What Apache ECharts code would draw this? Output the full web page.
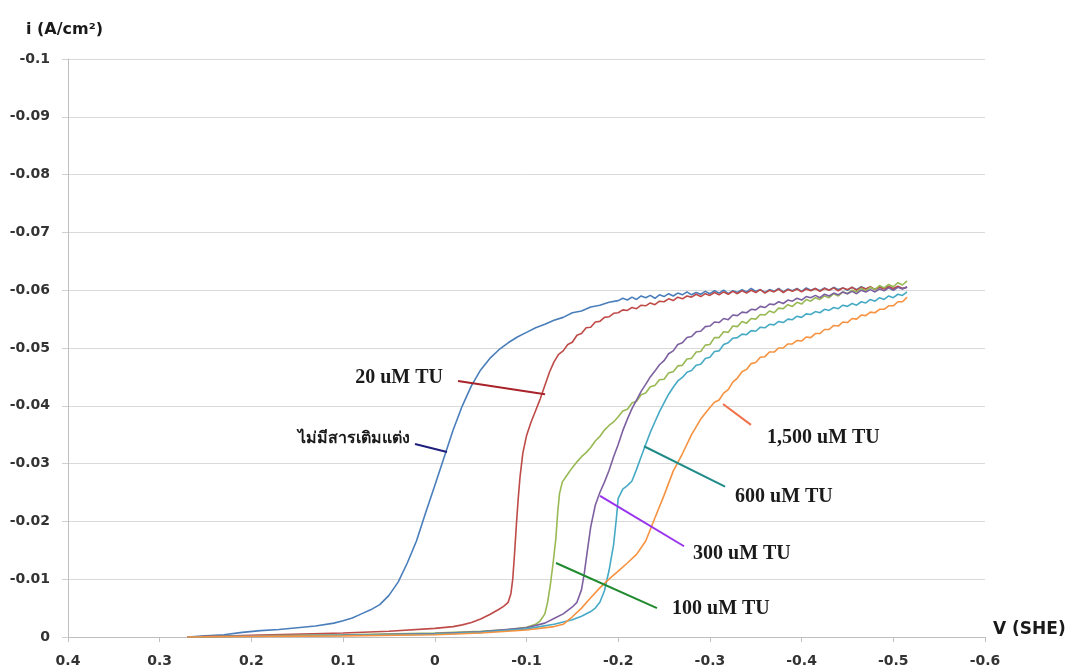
<!DOCTYPE html>
<html>
<head>
<meta charset="utf-8">
<title>Polarization curves with thiourea</title>
<script src="https://cdn.jsdelivr.net/npm/echarts@6/dist/echarts.min.js"></script>
<style>
  html, body { margin: 0; padding: 0; background: #ffffff; }
  #chart { width: 1073px; height: 671px; }
</style>
</head>
<body>
<div id="chart"></div>
<script>
// Tick labels for the potential (V vs SHE) and current density axes
const xTickLabels = ['-0.6', '-0.5', '-0.4', '-0.3', '-0.2', '-0.1', '0', '0.1', '0.2', '0.3', '0.4'];
const yTickLabels = ['-0.1', '-0.09', '-0.08', '-0.07', '-0.06', '-0.05', '-0.04', '-0.03', '-0.02', '-0.01', '0'];

// Curve names (annotation text)
const seriesNames = ['ไม่มีสารเติมแต่ง', '20 uM TU', '100 uM TU', '300 uM TU', '600 uM TU', '1,500 uM TU'];

// [potential V, current density A/cm2]
const noAdditive = [
  [0.27, 0], [0.25, -0.0002], [0.23, -0.0004], [0.21, -0.0008], [0.19, -0.0011], [0.17, -0.0013],
  [0.15, -0.0016], [0.13, -0.0019], [0.11, -0.0024], [0.10, -0.0028], [0.09, -0.0033], [0.08, -0.0040],
  [0.07, -0.0047], [0.06, -0.0056], [0.05, -0.0072], [0.04, -0.0095], [0.03, -0.0128], [0.02, -0.0166],
  [0.01, -0.0215], [0.00, -0.0262], [-0.01, -0.0310], [-0.02, -0.0358], [-0.03, -0.0400], [-0.04, -0.0435],
  [-0.05, -0.0462], [-0.06, -0.0482], [-0.07, -0.0497], [-0.08, -0.0509], [-0.09, -0.0519], [-0.10, -0.0527],
  [-0.11, -0.0535], [-0.12, -0.0541], [-0.13, -0.0548], [-0.14, -0.0553], [-0.15, -0.0561], [-0.16, -0.0564],
  [-0.17, -0.0571], [-0.18, -0.0574], [-0.19, -0.0579], [-0.20, -0.0582], [-0.205, -0.0586], [-0.21, -0.0583],
  [-0.215, -0.0588], [-0.22, -0.0584], [-0.225, -0.0590], [-0.23, -0.0587], [-0.235, -0.0591], [-0.24, -0.0586],
  [-0.245, -0.0592], [-0.25, -0.0589], [-0.255, -0.0594], [-0.26, -0.0590], [-0.265, -0.0595], [-0.27, -0.0592],
  [-0.275, -0.0597], [-0.28, -0.0592], [-0.285, -0.0596], [-0.29, -0.0593], [-0.295, -0.0598], [-0.30, -0.0594],
  [-0.305, -0.0599], [-0.31, -0.0595], [-0.315, -0.0600], [-0.32, -0.0594], [-0.325, -0.0599], [-0.33, -0.0596],
  [-0.335, -0.0601], [-0.34, -0.0597], [-0.345, -0.0603], [-0.35, -0.0598], [-0.355, -0.0601], [-0.36, -0.0596],
  [-0.365, -0.0601], [-0.37, -0.0598], [-0.375, -0.0603], [-0.38, -0.0597], [-0.385, -0.0602], [-0.39, -0.0599],
  [-0.395, -0.0603], [-0.40, -0.0598], [-0.405, -0.0604], [-0.41, -0.0600], [-0.415, -0.0603], [-0.42, -0.0599],
  [-0.425, -0.0604], [-0.43, -0.0600], [-0.435, -0.0605], [-0.44, -0.0601], [-0.445, -0.0604], [-0.45, -0.0600],
  [-0.455, -0.0605], [-0.46, -0.0601], [-0.465, -0.0606], [-0.47, -0.0602], [-0.475, -0.0605], [-0.48, -0.0601],
  [-0.485, -0.0606], [-0.49, -0.0603], [-0.495, -0.0607], [-0.50, -0.0602], [-0.505, -0.0606], [-0.51, -0.0603],
  [-0.515, -0.0605]
];

const tu20 = [
  [0.27, 0], [0.20, -0.0003], [0.10, -0.0007], [0.05, -0.0010], [0.00, -0.0015], [-0.02, -0.0018],
  [-0.03, -0.0021], [-0.04, -0.0025], [-0.05, -0.0031], [-0.06, -0.0039], [-0.07, -0.0048], [-0.075, -0.0053],
  [-0.08, -0.0060], [-0.083, -0.0075], [-0.085, -0.0100], [-0.087, -0.0145], [-0.089, -0.0195], [-0.091, -0.0240],
  [-0.093, -0.0278], [-0.096, -0.0318], [-0.10, -0.0348], [-0.105, -0.0372], [-0.11, -0.0392], [-0.115, -0.0412],
  [-0.12, -0.0435], [-0.125, -0.0458], [-0.13, -0.0476], [-0.135, -0.0489], [-0.14, -0.0495], [-0.145, -0.0506],
  [-0.15, -0.0510], [-0.155, -0.0522], [-0.16, -0.0525], [-0.165, -0.0535], [-0.17, -0.0536], [-0.175, -0.0545],
  [-0.18, -0.0546], [-0.185, -0.0553], [-0.19, -0.0554], [-0.195, -0.0560], [-0.20, -0.0561], [-0.205, -0.0566],
  [-0.21, -0.0565], [-0.215, -0.0570], [-0.22, -0.0568], [-0.225, -0.0574], [-0.23, -0.0573], [-0.235, -0.0578],
  [-0.24, -0.0575], [-0.245, -0.0581], [-0.25, -0.0580], [-0.255, -0.0585], [-0.26, -0.0582], [-0.265, -0.0588],
  [-0.27, -0.0585], [-0.275, -0.0590], [-0.28, -0.0588], [-0.285, -0.0593], [-0.29, -0.0589], [-0.295, -0.0594],
  [-0.30, -0.0591], [-0.305, -0.0596], [-0.31, -0.0592], [-0.315, -0.0597], [-0.32, -0.0593], [-0.325, -0.0598],
  [-0.33, -0.0594], [-0.335, -0.0599], [-0.34, -0.0595], [-0.345, -0.0600], [-0.35, -0.0596], [-0.355, -0.0601],
  [-0.36, -0.0595], [-0.365, -0.0600], [-0.37, -0.0597], [-0.375, -0.0602], [-0.38, -0.0596], [-0.385, -0.0601],
  [-0.39, -0.0598], [-0.395, -0.0602], [-0.40, -0.0597], [-0.405, -0.0602], [-0.41, -0.0599], [-0.415, -0.0603],
  [-0.42, -0.0598], [-0.425, -0.0603], [-0.43, -0.0600], [-0.435, -0.0604], [-0.44, -0.0599], [-0.445, -0.0604],
  [-0.45, -0.0601], [-0.455, -0.0605], [-0.46, -0.0600], [-0.465, -0.0605], [-0.47, -0.0602], [-0.475, -0.0606],
  [-0.48, -0.0601], [-0.485, -0.0605], [-0.49, -0.0602], [-0.495, -0.0606], [-0.50, -0.0603], [-0.505, -0.0607],
  [-0.51, -0.0603], [-0.515, -0.0605]
];

const tu100 = [
  [0.27, 0], [0.20, -0.0002], [0.10, -0.0004], [0.00, -0.0007], [-0.05, -0.0010], [-0.08, -0.0013],
  [-0.10, -0.0017], [-0.11, -0.0022], [-0.115, -0.0028], [-0.12, -0.0040], [-0.123, -0.0060], [-0.126, -0.0090],
  [-0.129, -0.0128], [-0.132, -0.0170], [-0.134, -0.0215], [-0.136, -0.0248], [-0.139, -0.0268], [-0.145, -0.0282],
  [-0.15, -0.0293], [-0.155, -0.0303], [-0.16, -0.0312], [-0.165, -0.0319], [-0.17, -0.0328], [-0.175, -0.0339],
  [-0.18, -0.0347], [-0.185, -0.0358], [-0.19, -0.0366], [-0.195, -0.0372], [-0.20, -0.0381], [-0.205, -0.0391],
  [-0.21, -0.0394], [-0.215, -0.0405], [-0.22, -0.0408], [-0.225, -0.0419], [-0.23, -0.0422], [-0.235, -0.0433],
  [-0.24, -0.0435], [-0.245, -0.0445], [-0.25, -0.0446], [-0.255, -0.0457], [-0.26, -0.0459], [-0.265, -0.0469],
  [-0.27, -0.0470], [-0.275, -0.0481], [-0.28, -0.0482], [-0.285, -0.0493], [-0.29, -0.0494], [-0.295, -0.0505],
  [-0.30, -0.0506], [-0.305, -0.0518], [-0.31, -0.0518], [-0.315, -0.0528], [-0.32, -0.0527], [-0.325, -0.0538],
  [-0.33, -0.0537], [-0.335, -0.0546], [-0.34, -0.0543], [-0.345, -0.0551], [-0.35, -0.0550], [-0.355, -0.0558],
  [-0.36, -0.0557], [-0.365, -0.0564], [-0.37, -0.0561], [-0.375, -0.0569], [-0.38, -0.0568], [-0.385, -0.0575],
  [-0.39, -0.0572], [-0.395, -0.0579], [-0.40, -0.0576], [-0.405, -0.0584], [-0.41, -0.0581], [-0.415, -0.0587],
  [-0.42, -0.0584], [-0.425, -0.0590], [-0.43, -0.0587], [-0.435, -0.0594], [-0.44, -0.0590], [-0.445, -0.0597],
  [-0.45, -0.0594], [-0.455, -0.0600], [-0.46, -0.0597], [-0.465, -0.0603], [-0.47, -0.0599], [-0.475, -0.0605],
  [-0.48, -0.0601], [-0.485, -0.0608], [-0.49, -0.0604], [-0.495, -0.0610], [-0.50, -0.0606], [-0.505, -0.0613],
  [-0.51, -0.0609], [-0.515, -0.0616]
];

const tu300 = [
  [0.27, 0], [0.20, -0.0002], [0.10, -0.0003], [0.00, -0.0006], [-0.05, -0.0009], [-0.10, -0.0016],
  [-0.12, -0.0024], [-0.13, -0.0032], [-0.14, -0.0040], [-0.15, -0.0052], [-0.155, -0.0060], [-0.16, -0.0082],
  [-0.163, -0.0110], [-0.166, -0.0145], [-0.17, -0.0190], [-0.175, -0.0228], [-0.18, -0.0250], [-0.185, -0.0268],
  [-0.19, -0.0288], [-0.195, -0.0312], [-0.20, -0.0333], [-0.205, -0.0357], [-0.21, -0.0377], [-0.215, -0.0395],
  [-0.22, -0.0410], [-0.225, -0.0425], [-0.23, -0.0437], [-0.235, -0.0450], [-0.24, -0.0460], [-0.245, -0.0471],
  [-0.25, -0.0478], [-0.255, -0.0490], [-0.26, -0.0495], [-0.265, -0.0506], [-0.27, -0.0509], [-0.275, -0.0518],
  [-0.28, -0.0520], [-0.285, -0.0528], [-0.29, -0.0529], [-0.295, -0.0537], [-0.30, -0.0538], [-0.305, -0.0545],
  [-0.31, -0.0544], [-0.315, -0.0551], [-0.32, -0.0549], [-0.325, -0.0557], [-0.33, -0.0556], [-0.335, -0.0562],
  [-0.34, -0.0561], [-0.345, -0.0567], [-0.35, -0.0566], [-0.355, -0.0572], [-0.36, -0.0570], [-0.365, -0.0576],
  [-0.37, -0.0575], [-0.375, -0.0580], [-0.38, -0.0577], [-0.385, -0.0583], [-0.39, -0.0581], [-0.395, -0.0586],
  [-0.40, -0.0583], [-0.405, -0.0589], [-0.41, -0.0587], [-0.415, -0.0591], [-0.42, -0.0587], [-0.425, -0.0593],
  [-0.43, -0.0590], [-0.435, -0.0595], [-0.44, -0.0592], [-0.445, -0.0597], [-0.45, -0.0594], [-0.455, -0.0598],
  [-0.46, -0.0594], [-0.465, -0.0600], [-0.47, -0.0597], [-0.475, -0.0601], [-0.48, -0.0597], [-0.485, -0.0602],
  [-0.49, -0.0599], [-0.495, -0.0604], [-0.50, -0.0600], [-0.505, -0.0605], [-0.51, -0.0602], [-0.515, -0.0606]
];

const tu600 = [
  [0.27, 0], [0.20, -0.0001], [0.10, -0.0003], [0.00, -0.0005], [-0.05, -0.0008], [-0.10, -0.0014],
  [-0.13, -0.0022], [-0.15, -0.0030], [-0.16, -0.0036], [-0.17, -0.0044], [-0.175, -0.0050], [-0.18, -0.0060],
  [-0.185, -0.0080], [-0.19, -0.0115], [-0.195, -0.0160], [-0.198, -0.0205], [-0.20, -0.0240], [-0.205, -0.0256],
  [-0.21, -0.0262], [-0.215, -0.0270], [-0.22, -0.0290], [-0.225, -0.0312], [-0.23, -0.0333], [-0.235, -0.0354],
  [-0.24, -0.0372], [-0.245, -0.0390], [-0.25, -0.0405], [-0.255, -0.0420], [-0.26, -0.0432], [-0.265, -0.0443],
  [-0.27, -0.0449], [-0.275, -0.0458], [-0.28, -0.0461], [-0.285, -0.0470], [-0.29, -0.0472], [-0.295, -0.0482],
  [-0.30, -0.0484], [-0.305, -0.0494], [-0.31, -0.0495], [-0.315, -0.0506], [-0.32, -0.0509], [-0.325, -0.0517],
  [-0.33, -0.0518], [-0.335, -0.0524], [-0.34, -0.0523], [-0.345, -0.0530], [-0.35, -0.0529], [-0.355, -0.0536],
  [-0.36, -0.0535], [-0.365, -0.0541], [-0.37, -0.0540], [-0.375, -0.0546], [-0.38, -0.0544], [-0.385, -0.0550],
  [-0.39, -0.0549], [-0.395, -0.0555], [-0.40, -0.0553], [-0.405, -0.0559], [-0.41, -0.0558], [-0.415, -0.0563],
  [-0.42, -0.0561], [-0.425, -0.0567], [-0.43, -0.0565], [-0.435, -0.0570], [-0.44, -0.0568], [-0.445, -0.0574],
  [-0.45, -0.0572], [-0.455, -0.0577], [-0.46, -0.0574], [-0.465, -0.0580], [-0.47, -0.0578], [-0.475, -0.0584],
  [-0.48, -0.0581], [-0.485, -0.0587], [-0.49, -0.0584], [-0.495, -0.0590], [-0.50, -0.0587], [-0.505, -0.0593],
  [-0.51, -0.0591], [-0.515, -0.0597]
];

const tu1500 = [
  [0.27, 0], [0.20, -0.0001], [0.10, -0.0002], [0.00, -0.0004], [-0.05, -0.0007], [-0.10, -0.0012],
  [-0.13, -0.0018], [-0.14, -0.0022], [-0.15, -0.0035], [-0.16, -0.0050], [-0.17, -0.0068], [-0.18, -0.0085],
  [-0.19, -0.0100], [-0.20, -0.0114], [-0.21, -0.0128], [-0.22, -0.0143], [-0.23, -0.0166], [-0.24, -0.0206],
  [-0.25, -0.0245], [-0.26, -0.0287], [-0.27, -0.0317], [-0.28, -0.0350], [-0.29, -0.0377], [-0.30, -0.0397],
  [-0.305, -0.0406], [-0.31, -0.0410], [-0.315, -0.0422], [-0.32, -0.0428], [-0.325, -0.0441], [-0.33, -0.0448],
  [-0.335, -0.0459], [-0.34, -0.0463], [-0.345, -0.0473], [-0.35, -0.0475], [-0.355, -0.0484], [-0.36, -0.0485],
  [-0.365, -0.0493], [-0.37, -0.0493], [-0.375, -0.0500], [-0.38, -0.0500], [-0.385, -0.0507], [-0.39, -0.0507],
  [-0.395, -0.0513], [-0.40, -0.0512], [-0.405, -0.0519], [-0.41, -0.0518], [-0.415, -0.0525], [-0.42, -0.0525],
  [-0.425, -0.0532], [-0.43, -0.0532], [-0.435, -0.0539], [-0.44, -0.0538], [-0.445, -0.0545], [-0.45, -0.0544],
  [-0.455, -0.0551], [-0.46, -0.0550], [-0.465, -0.0557], [-0.47, -0.0556], [-0.475, -0.0562], [-0.48, -0.0561],
  [-0.485, -0.0567], [-0.49, -0.0567], [-0.495, -0.0573], [-0.50, -0.0573], [-0.505, -0.0580], [-0.51, -0.0580],
  [-0.515, -0.0588]
];

// Leader lines [[V, i] start, [V, i] end] and label anchors [V, i]
const leaderLines = [
  [[0.0216, -0.0334], [-0.0133, -0.0320]],
  [[-0.0253, -0.0443], [-0.1202, -0.0420]],
  [[-0.1322, -0.0128], [-0.2423, -0.0050]],
  [[-0.1802, -0.0244], [-0.2718, -0.0157]],
  [[-0.2281, -0.0330], [-0.3165, -0.0260]],
  [[-0.3143, -0.0403], [-0.3448, -0.0367]]
];
const labelAnchors = [
  [0.0270, -0.0344],
  [-0.0089, -0.0448],
  [-0.2587, -0.0048],
  [-0.2816, -0.0144],
  [-0.3274, -0.0242],
  [-0.3623, -0.0344]
];

const curveColors = ['#4a7ebb', '#be4b48', '#98b954', '#7d60a0', '#46aac5', '#f69240'];
const leaderColors = ['#1f1f7e', '#a8232a', '#1f8a2e', '#9933ee', '#1f8c88', '#f0704a'];
const labelAlign = ['right', 'right', 'left', 'left', 'left', 'left'];
const curves = [noAdditive, tu20, tu100, tu300, tu600, tu1500];

const chart = echarts.init(document.getElementById('chart'), null, { renderer: 'canvas' });

const tickFont = {
  fontFamily: 'DejaVu Sans',
  fontWeight: 'bold',
  fontSize: 14,
  color: '#333333'
};

const series = curves.map((data, k) => ({
  name: seriesNames[k],
  type: 'line',
  data: data,
  showSymbol: false,
  symbol: 'none',
  smooth: false,
  clip: false,
  lineStyle: { color: curveColors[k], width: 1.6 },
  itemStyle: { color: curveColors[k] },
  z: 2,
  markLine: {
    silent: true,
    symbol: ['none', 'none'],
    animation: false,
    label: { show: false },
    lineStyle: { color: leaderColors[k], width: 2, type: 'solid' },
    data: [[{ coord: leaderLines[k][0] }, { coord: leaderLines[k][1] }]],
    z: 5
  },
  markPoint: {
    silent: true,
    animation: false,
    symbol: 'circle',
    symbolSize: 0,
    itemStyle: { color: 'rgba(0,0,0,0)' },
    label: {
      show: true,
      position: 'inside',
      align: labelAlign[k],
      verticalAlign: 'middle',
      formatter: seriesNames[k],
      fontFamily: k === 0 ? 'Noto Sans, DejaVu Sans, sans-serif' : 'Liberation Serif',
      fontWeight: 'bold',
      fontSize: k === 0 ? 16 : 20,
      color: '#1a1a1a'
    },
    data: [{ coord: labelAnchors[k] }],
    z: 6
  }
}));

chart.setOption({
  animation: false,
  backgroundColor: '#ffffff',
  grid: { left: 68, right: 88, top: 59, bottom: 34, containLabel: false, outerBoundsMode: 'none' },
  xAxis: {
    type: 'value',
    min: -0.6,
    max: 0.4,
    interval: 0.1,
    inverse: true,
    axisLine: { show: true, onZero: false, lineStyle: { color: '#bfbfbf', width: 1 } },
    axisTick: { show: true, length: 5, lineStyle: { color: '#bfbfbf' } },
    splitLine: { show: false },
    axisLabel: Object.assign({}, tickFont, {
      margin: 17,
      formatter: v => xTickLabels[Math.round((v + 0.6) / 0.1)]
    })
  },
  yAxis: {
    type: 'value',
    min: -0.1,
    max: 0,
    interval: 0.01,
    inverse: true,
    axisLine: { show: true, onZero: false, lineStyle: { color: '#bfbfbf', width: 1 } },
    axisTick: { show: true, length: 6, lineStyle: { color: '#d0d0d0' } },
    splitLine: { show: true, lineStyle: { color: '#d9d9d9', width: 1 } },
    axisLabel: Object.assign({}, tickFont, {
      margin: 18,
      formatter: v => yTickLabels[Math.round((v + 0.1) / 0.01)]
    })
  },
  graphic: [
    {
      type: 'text',
      left: 26,
      top: 22,
      style: {
        text: 'i (A/cm²)',
        font: 'bold 16px "DejaVu Sans"',
        fill: '#1a1a1a'
      }
    },
    {
      type: 'text',
      left: 993,
      top: 621,
      style: {
        text: 'V (SHE)',
        font: 'bold 17px "DejaVu Sans"',
        fill: '#1a1a1a'
      }
    }
  ],
  series: series
});
</script>
</body>
</html>
